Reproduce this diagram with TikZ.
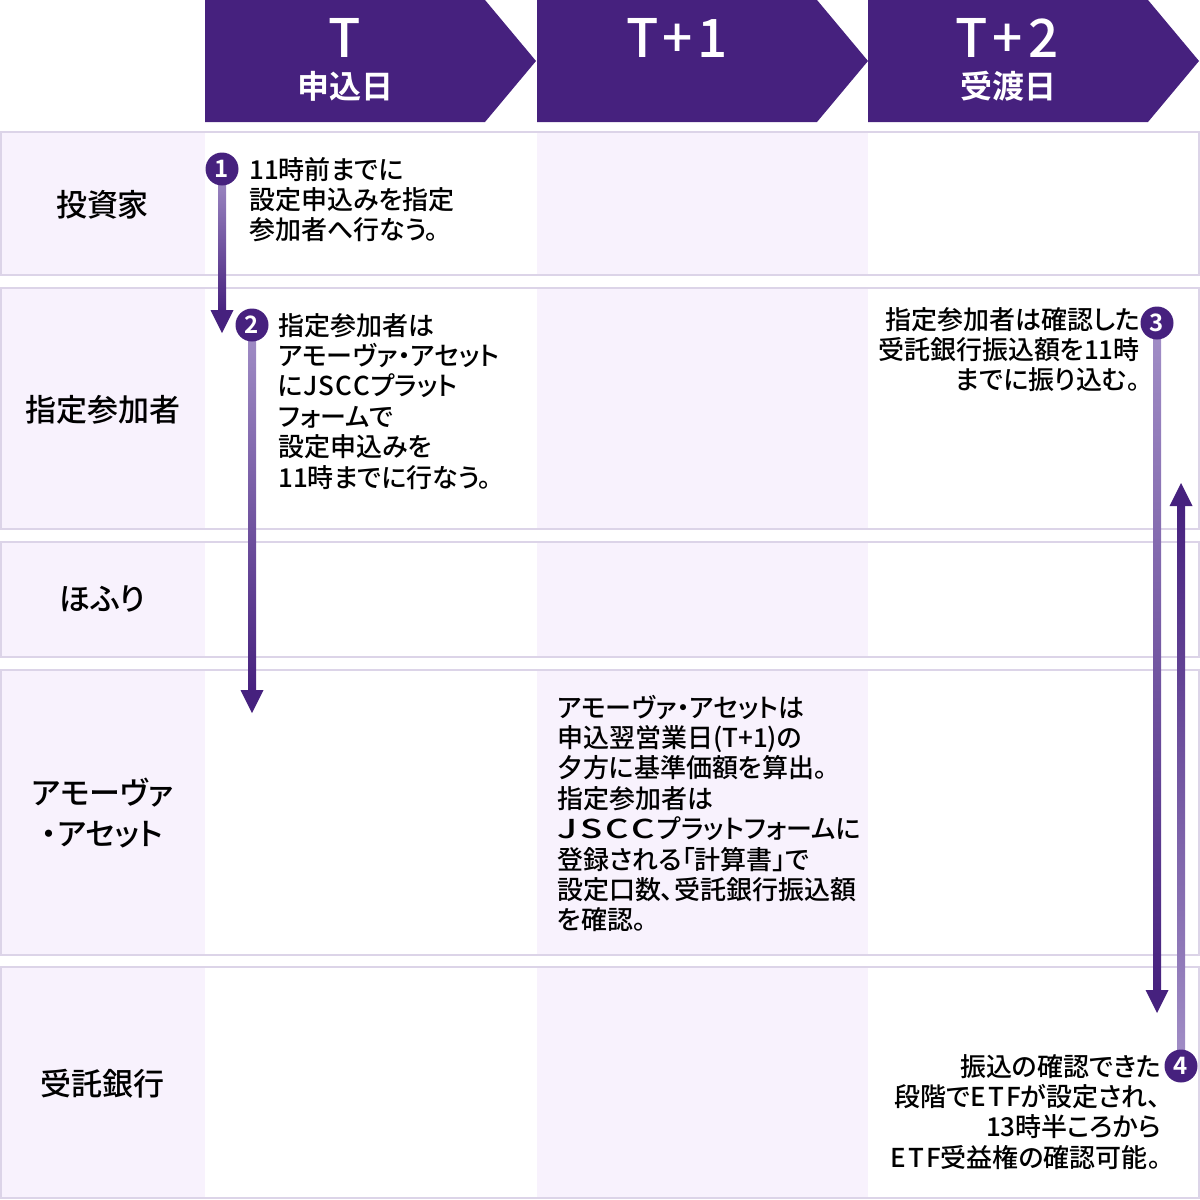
\documentclass[tikz,border=0pt]{standalone}
\usepackage{fontspec}
\IfFontExistsTF{Noto Sans CJK JP Medium}{%
  \setmainfont{Noto Sans CJK JP Medium}[RawFeature={+palt}]
  \newfontfamily\hdrfont{Noto Sans CJK JP Medium}
  \newfontfamily\widelat{Noto Sans CJK JP Medium}[FakeStretch=1.4]
}{%
  \setmainfont{Noto Sans CJK JP}[RawFeature={+palt}]
  \newfontfamily\hdrfont{Noto Sans CJK JP}
  \newfontfamily\widelat{Noto Sans CJK JP}[FakeStretch=1.4]
}
\IfFontExistsTF{Noto Sans CJK JP Bold}{%
  \newfontfamily\boldjp{Noto Sans CJK JP Bold}[RawFeature={+palt}]
}{%
  \newfontfamily\boldjp{Noto Sans CJK JP}[RawFeature={+palt}]
}
\usetikzlibrary{calc}
\definecolor{hdr}{HTML}{46217E}
\definecolor{rowline}{HTML}{DCD4E8}
\definecolor{cellfill}{HTML}{F8F2FD}
\definecolor{gradlight}{HTML}{A28FC7}
\definecolor{graddark}{HTML}{46217E}
\pgfdeclarelayer{bg}
\pgfdeclarelayer{arr}
\pgfsetlayers{bg,arr,main}
\tikzset{
  hdrbox/.style={fill=hdr, draw=none},
  hdrbig/.style={text=white, font=\hdrfont\fontsize{53}{60}\selectfont, anchor=base, inner sep=0pt},
  hdrsmall/.style={text=white, font=\boldjp\fontsize{32}{36}\selectfont, anchor=base, inner sep=0pt},
  rowlabel/.style={font=\fontsize{31}{41}\selectfont, text width=200pt, align=center, anchor=base, inner sep=0pt},
  notel/.style={font=\fontsize{26}{30.4}\selectfont, text width=330pt, align=left, anchor=base west, inner sep=0pt},
  noter/.style={font=\fontsize{26}{30.4}\selectfont, text width=330pt, align=right, anchor=base east, inner sep=0pt},
  num/.style={circle, fill=hdr, text=white, minimum size=33pt, inner sep=0pt, font=\boldjp\fontsize{24}{24}\selectfont},
  rowframe/.style={draw=rowline, line width=2pt},
  tiphead/.style={fill=graddark, draw=none},
}
\begin{document}
\begin{tikzpicture}[x=1pt,y=-1pt]
\useasboundingbox (0,0) rectangle (1200,1200);

% rows
\begin{pgfonlayer}{bg}
\foreach \ya/\yb in {132/275, 288/529, 542/657, 670/955, 967/1198} {
  \fill[cellfill] (1,\ya) rectangle (205,\yb);
  \fill[cellfill] (537,\ya) rectangle (868,\yb);
  \draw[rowframe] (1,\ya) rectangle (1199,\yb);
}
% header chevrons
\fill[hdrbox] (205,0) -- (485,0) -- (536,61) -- (485,122) -- (205,122) -- cycle;
\fill[hdrbox] (537,0) -- (817,0) -- (868,61) -- (817,122) -- (537,122) -- cycle;
\fill[hdrbox] (868,0) -- (1148,0) -- (1199,61) -- (1148,122) -- (868,122) -- cycle;
\end{pgfonlayer}

\node[hdrbig] (hT) at (345,57) {T};
\node[hdrsmall] (hTd) at (345,98) {申込日};
\node[hdrbig] (hT1) at (677,57) {T\kern4pt+\kern4pt1};
\node[hdrbig] (hT2) at (1007,57) {T\kern5pt+\kern5pt2};
\node[hdrsmall] (hT2d) at (1008,98) {受渡日};

% row labels
\node[rowlabel] (l1) at (102.5,216) {投資家};
\node[rowlabel] (l2) at (102.5,421) {指定参加者};
\node[rowlabel] (l3) at (102.5,610) {ほふり};
\node[rowlabel] (l4) at (102.5,804) {アモーヴァ\\・アセット};
\node[rowlabel] (l5) at (102.5,1095) {受託銀行};

% step circles
\node[num] (n1) at (222,169) {1};
\node[num] (n2) at (252,325) {2};
\node[num] (n3) at (1157,323) {3};
\node[num] (n4) at (1181,1066) {4};

\coordinate (t1) at (222,333);
\coordinate (t2) at (252,713);
\coordinate (t3) at (1157,1013);
\coordinate (t4) at (1181,483);

% arrows
\begin{pgfonlayer}{arr}
\shade[top color=gradlight, bottom color=graddark] ($(n1.center)+(-4,0)$) rectangle ($(t1)+(4,-21)$);
\fill[tiphead] (t1) -- ++(-11.5,-23) -- ++(23,0) -- cycle;
\shade[top color=gradlight, bottom color=graddark] ($(n2.center)+(-4,0)$) rectangle ($(t2)+(4,-21)$);
\fill[tiphead] (t2) -- ++(-11.5,-23) -- ++(23,0) -- cycle;
\shade[top color=gradlight, bottom color=graddark] ($(n3.center)+(-4,0)$) rectangle ($(t3)+(4,-21)$);
\fill[tiphead] (t3) -- ++(-11.5,-23) -- ++(23,0) -- cycle;
\shade[top color=graddark, bottom color=gradlight] ($(t4)+(-4,21)$) rectangle ($(n4.center)+(4,0)$);
\fill[tiphead] (t4) -- ++(-11.5,23) -- ++(23,0) -- cycle;
\end{pgfonlayer}

% notes
\node[notel] (s1) at (249,179) {11時前までに\\設定申込みを指定\\参加者へ行なう。};
\node[notel] (s2) at (278,335) {指定参加者は\\アモーヴァ・アセット\\にJ\kern1ptS\kern1ptC\kern1ptC\kern1ptプラット\\フォームで\\設定申込みを\\11時までに行なう。};
\node[notel] (s5) at (557,717) {アモーヴァ・アセットは\\申込翌営業日(T+1)の\\夕方に基準価額を算出。\\指定参加者は\\{\widelat J\kern3ptS\kern3ptC\kern3ptC\kern2pt}プラットフォームに\\登録される「計算書」で\\設定口数、受託銀行振込額\\を確認。};
\node[noter] (s3) at (1140,329) {指定参加者は確認した\\受託銀行振込額を11時\\までに振り込む。};
\node[noter] (s4) at (1161,1076) {振込の確認できた\\段階でE\kern2ptT\kern2ptFが設定され、\\13時半ころから\\E\kern2ptT\kern2ptF受益権の確認可能。};
\end{tikzpicture}
\end{document}
